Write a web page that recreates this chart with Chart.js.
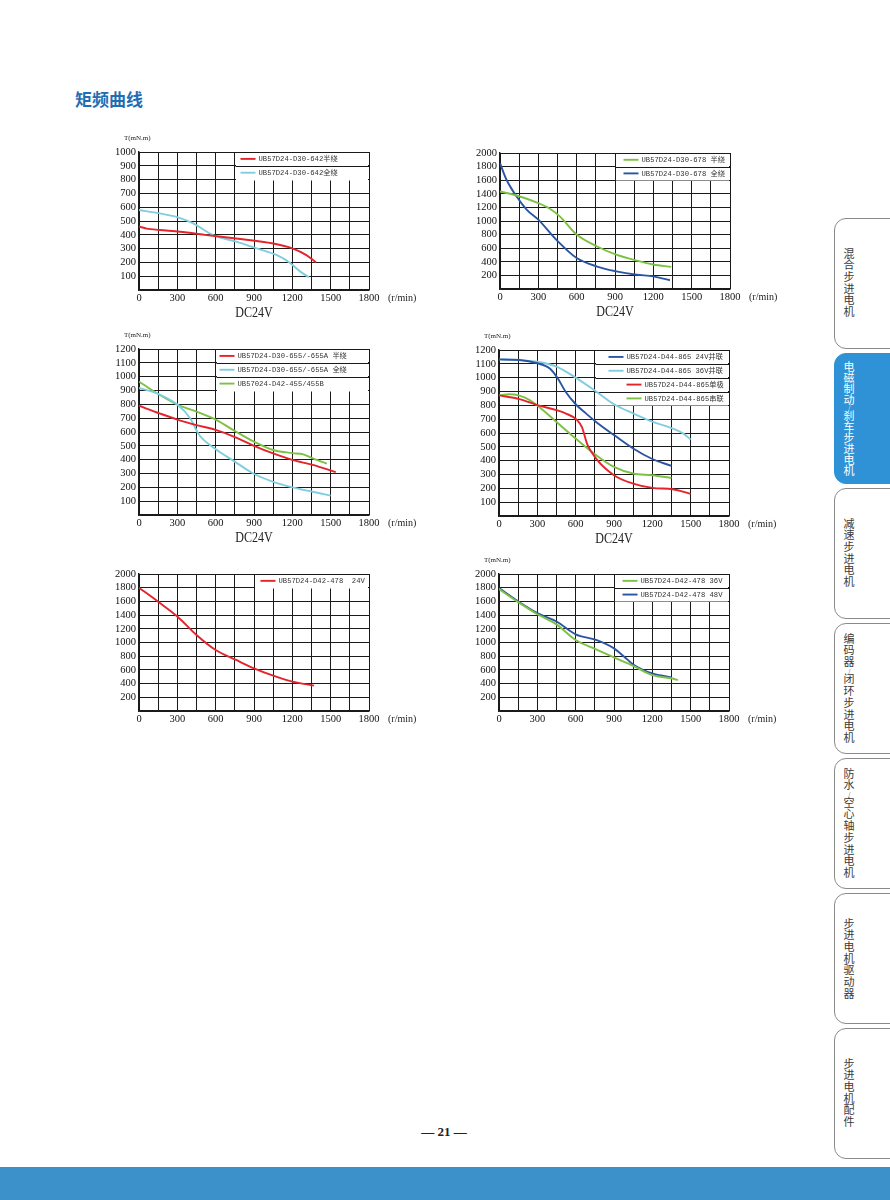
<!DOCTYPE html>
<html>
<head>
<meta charset="utf-8">
<script src="https://cdn.jsdelivr.net/npm/chart.js@4.4.1/dist/chart.umd.min.js"></script>
<style>
body{margin:0;width:890px;height:1200px;position:relative;background:#fff;overflow:hidden;font-family:"Noto Sans CJK SC",sans-serif}
.title{position:absolute;left:75px;top:86px;font-size:17px;font-weight:bold;color:#1f6db3}
.box{position:absolute;width:325px}
.tab{position:absolute;left:834px;width:70px;height:131px;border:1px solid #8a8a8a;border-radius:12px 0 0 12px;box-sizing:border-box;background:#fff;display:flex;align-items:center}
.tab span{writing-mode:vertical-rl;text-orientation:upright;font-size:11px;line-height:1;letter-spacing:0.7px;color:#3a3a3a;margin-left:8px}
.tab span i{font-style:normal;font-size:5px}
.tab.on{background:#3092d6;border-color:#3092d6}
.tab.on span{color:#fff;letter-spacing:0}
.pg{position:absolute;left:0;top:1124px;width:888px;text-align:center;font:bold 13px "Liberation Serif",serif;color:#222}
.bar{position:absolute;left:0;top:1167px;width:890px;height:33px;background:#3d91cb}
</style>
</head>
<body>
<div class="title">矩频曲线</div>

<div class="box" style="left:99px;top:128px;height:202px"><canvas id="c1"></canvas></div>
<div class="box" style="left:460px;top:129px;height:200px"><canvas id="c2"></canvas></div>
<div class="box" style="left:99px;top:325px;height:230px"><canvas id="c3"></canvas></div>
<div class="box" style="left:459px;top:326px;height:230px"><canvas id="c4"></canvas></div>
<div class="box" style="left:99px;top:550px;height:201px"><canvas id="c5"></canvas></div>
<div class="box" style="left:459px;top:550px;height:201px"><canvas id="c6"></canvas></div>

<div class="tab" style="top:218px"><span>混合步进电机</span></div>
<div class="tab on" style="top:353px"><span>电磁制动<i>/</i>刹车步进电机</span></div>
<div class="tab" style="top:488px"><span>减速步进电机</span></div>
<div class="tab" style="top:623px"><span>编码器<i>/</i>闭环步进电机</span></div>
<div class="tab" style="top:758px"><span>防水<i>/</i>空心轴步进电机</span></div>
<div class="tab" style="top:893px"><span>步进电机驱动器</span></div>
<div class="tab" style="top:1028px"><span>步进电机配件</span></div>

<div class="pg">— 21 —</div>
<div class="bar"></div>

<script>
// x axis labels (r/min)
var xTickLabels = [0, 300, 600, 900, 1200, 1500, 1800];

// chart 1 : UB57D24-D30-642
var c1Labels = ["UB57D24-D30-642半绕", "UB57D24-D30-642全绕"];
var c1HalfX = [0, 60, 160, 320, 530, 760, 1050, 1200, 1310, 1385];
var c1HalfY = [460, 445, 435, 422, 398, 373, 337, 302, 253, 200];
var c1FullX = [0, 160, 310, 420, 580, 760, 920, 1080, 1180, 1260, 1330];
var c1FullY = [580, 555, 525, 485, 398, 350, 302, 252, 198, 135, 92];

// chart 2 : UB57D24-D30-678
var c2Labels = ["UB57D24-D30-678 半绕", "UB57D24-D30-678 全绕"];
var c2HalfX = [0, 130, 290, 390, 470, 600, 760, 910, 1070, 1200, 1340];
var c2HalfY = [1435, 1375, 1270, 1180, 1065, 800, 625, 505, 418, 360, 325];
var c2FullX = [0, 50, 130, 210, 300, 440, 600, 760, 910, 1070, 1200, 1330];
var c2FullY = [1850, 1610, 1360, 1165, 1020, 725, 455, 330, 260, 210, 185, 128];

// chart 3 : UB57D24-D30-655 / D42-455
var c3Labels = ["UB57D24-D30-655/-655A 半绕", "UB57D24-D30-655/-655A 全绕", "UB57024-D42-455/455B"];
var c3HalfX = [0, 160, 300, 450, 600, 760, 900, 1050, 1200, 1360, 1540];
var c3HalfY = [790, 735, 690, 650, 615, 560, 500, 445, 398, 362, 310];
var c3FullX = [0, 140, 300, 400, 470, 590, 750, 890, 1050, 1200, 1360, 1500];
var c3FullY = [918, 880, 798, 700, 580, 482, 386, 302, 240, 200, 168, 140];
var c3D42X = [0, 140, 300, 450, 600, 760, 900, 1050, 1200, 1280, 1360, 1470];
var c3D42Y = [965, 880, 798, 748, 690, 602, 530, 470, 447, 440, 410, 372];

// chart 4 : UB57D24-D44-865
var c4Labels = ["UB57D24-D44-865 24V并联", "UB57D24-D44-865 36V并联", "UB57D24-D44-865单极", "UB57D24-D44-865串联"];
var c4P24X = [0, 160, 300, 400, 460, 520, 600, 680, 760, 900, 1050, 1200, 1350];
var c4P24Y = [1132, 1128, 1104, 1065, 995, 900, 808, 742, 680, 585, 488, 412, 362];
var c4P36X = [0, 300, 450, 600, 760, 900, 1050, 1200, 1360, 1440, 1500];
var c4P36Y = [1132, 1115, 1080, 1000, 900, 808, 742, 682, 632, 597, 553];
var c4UniX = [0, 160, 300, 450, 520, 610, 650, 690, 760, 900, 1050, 1200, 1360, 1500];
var c4UniY = [872, 845, 802, 765, 742, 695, 640, 520, 415, 295, 234, 203, 193, 160];
var c4SerX = [0, 80, 160, 240, 300, 450, 600, 760, 900, 1050, 1200, 1350];
var c4SerY = [872, 880, 870, 838, 798, 680, 560, 440, 355, 307, 295, 275];

// chart 5 : UB57D24-D42-478 24V
var c5Labels = ["UB57D24-D42-478  24V"];
var c5V24X = [0, 150, 300, 450, 600, 760, 900, 1050, 1200, 1370];
var c5V24Y = [1800, 1595, 1380, 1110, 890, 745, 623, 516, 428, 370];

// chart 6 : UB57D24-D42-478 36V / 48V
var c6Labels = ["UB57D24-D42-478 36V", "UB57D24-D42-478 48V"];
var c6V36X = [0, 150, 300, 450, 600, 760, 900, 1050, 1200, 1360, 1400];
var c6V36Y = [1780, 1590, 1413, 1265, 1037, 900, 782, 660, 523, 474, 450];
var c6V48X = [0, 150, 300, 450, 600, 760, 900, 980, 1050, 1200, 1350];
var c6V48Y = [1795, 1600, 1428, 1306, 1120, 1037, 914, 792, 680, 548, 490];

var RED = '#e3242b', CYAN = '#80cde0', GREEN = '#7dc143', BLUE = '#2b55a2';
var GRID = '#1a1a1a';

// legend box, unit label, (r/min) and DC24V caption
var extras = {
  id: 'extras',
  beforeDatasetsDraw: function(chart, args, o) {
    var ctx = chart.ctx, a = chart.chartArea, x = chart.scales.x, y = chart.scales.y;
    var n = o.labels.length;
    var left = Math.round(x.getPixelForValue(o.legendFrom)) + 0.5;
    var bottom = Math.round(y.getPixelForValue(o.max - o.step * n)) + 0.5;
    ctx.save();
    ctx.fillStyle = '#fff';
    ctx.fillRect(left + 0.5, a.top + 1, a.right - left - 1.5, bottom - a.top - 1);
    ctx.strokeStyle = GRID;
    ctx.lineWidth = 1;
    ctx.beginPath();
    for (var i = 1; i < n; i++) {
      var yy = Math.round(y.getPixelForValue(o.max - o.step * i)) + 0.5;
      ctx.moveTo(left, yy); ctx.lineTo(a.right, yy);
    }
    ctx.stroke();
    // entries
    ctx.font = "7.2px 'Liberation Mono','Noto Sans CJK SC'";
    ctx.textBaseline = 'middle';
    for (var j = 0; j < n; j++) {
      var top = y.getPixelForValue(o.max - o.step * j);
      var bot = y.getPixelForValue(o.max - o.step * (j + 1));
      var cy = (top + bot) / 2;
      var sx = left + o.legendPad[j];
      ctx.strokeStyle = o.colors[j];
      ctx.lineWidth = 1.9;
      ctx.beginPath(); ctx.moveTo(sx, cy); ctx.lineTo(sx + 15, cy); ctx.stroke();
      ctx.fillStyle = '#333';
      ctx.fillText(o.labels[j], sx + 18, cy + 0.5);
    }
    ctx.restore();
  },
  afterDraw: function(chart, args, o) {
    var ctx = chart.ctx, a = chart.chartArea;
    ctx.save();
    ctx.fillStyle = '#222';
    ctx.textBaseline = 'middle';
    if (o.unit) {
      ctx.font = "7px 'Liberation Serif',serif";
      ctx.textAlign = 'left';
      ctx.fillText('T(mN.m)', a.left - 15, a.top - 14);
    }
    ctx.font = "10px 'Liberation Serif',serif";
    ctx.textAlign = 'left';
    ctx.fillText('(r/min)', a.right + 19, a.bottom + 8);
    if (o.caption) {
      ctx.translate((a.left + a.right) / 2, a.bottom + 23);
      ctx.scale(0.86, 1);
      ctx.font = "14px 'Liberation Serif',serif";
      ctx.textAlign = 'center';
      ctx.fillText(o.caption, 0, 0);
    }
    ctx.restore();
  }
};

function line(xs, ys, color) {
  return {
    data: xs.map(function(v, i) { return {x: v, y: ys[i]}; }),
    borderColor: color,
    borderWidth: 1.9,
    pointRadius: 0,
    fill: false,
    cubicInterpolationMode: 'monotone'
  };
}

function makeChart(id, datasets, o) {
  var tickFont = {family: 'Liberation Serif', size: 10.5};
  new Chart(document.getElementById(id), {
    type: 'line',
    data: {datasets: datasets},
    plugins: [extras],
    options: {
      responsive: true,
      maintainAspectRatio: false,
      animation: false,
      layout: {padding: {left: 0, top: 24, right: 55, bottom: 26}},
      plugins: {
        legend: {display: false},
        tooltip: {enabled: false},
        extras: o
      },
      scales: {
        x: {
          type: 'linear', min: 0, max: 1800,
          grid: {color: GRID, lineWidth: 1, drawTicks: false},
          border: {color: GRID, width: 1.4},
          ticks: {
            stepSize: 150, autoSkip: false, maxRotation: 0, padding: 2,
            color: '#111', font: tickFont,
            callback: function(v) { return xTickLabels.indexOf(v) >= 0 ? String(v) : ''; }
          },
          afterFit: function(s) { s.height = 14; }
        },
        y: {
          min: 0, max: o.max,
          grid: {color: GRID, lineWidth: 1, drawTicks: false},
          border: {color: GRID, width: 1.4},
          ticks: {
            stepSize: o.step, autoSkip: false, padding: 3, color: '#111', font: tickFont,
            callback: function(v) { return v === 0 ? '' : String(v); }
          },
          afterFit: function(s) { s.width = 40; }
        }
      }
    }
  });
}

makeChart('c1', [line(c1HalfX, c1HalfY, RED), line(c1FullX, c1FullY, CYAN)],
  {max: 1000, step: 100, labels: c1Labels, colors: [RED, CYAN], legendFrom: 750, legendPad: [5, 5], unit: true, caption: 'DC24V'});

makeChart('c2', [line(c2HalfX, c2HalfY, GREEN), line(c2FullX, c2FullY, BLUE)],
  {max: 2000, step: 200, labels: c2Labels, colors: [GREEN, BLUE], legendFrom: 900, legendPad: [8, 8], unit: false, caption: 'DC24V'});

makeChart('c3', [line(c3HalfX, c3HalfY, RED), line(c3FullX, c3FullY, CYAN), line(c3D42X, c3D42Y, GREEN)],
  {max: 1200, step: 100, labels: c3Labels, colors: [RED, CYAN, GREEN], legendFrom: 600, legendPad: [3, 3, 3], unit: true, caption: 'DC24V'});

makeChart('c4', [line(c4P24X, c4P24Y, BLUE), line(c4P36X, c4P36Y, CYAN), line(c4UniX, c4UniY, RED), line(c4SerX, c4SerY, GREEN)],
  {max: 1200, step: 100, labels: c4Labels, colors: [BLUE, CYAN, RED, GREEN], legendFrom: 750, legendPad: [13, 13, 31, 31], unit: true, caption: 'DC24V'});

makeChart('c5', [line(c5V24X, c5V24Y, RED)],
  {max: 2000, step: 200, labels: c5Labels, colors: [RED], legendFrom: 900, legendPad: [6], unit: false, caption: ''});

makeChart('c6', [line(c6V36X, c6V36Y, GREEN), line(c6V48X, c6V48Y, BLUE)],
  {max: 2000, step: 200, labels: c6Labels, colors: [GREEN, BLUE], legendFrom: 900, legendPad: [8, 8], unit: true, caption: ''});
</script>
</body>
</html>
